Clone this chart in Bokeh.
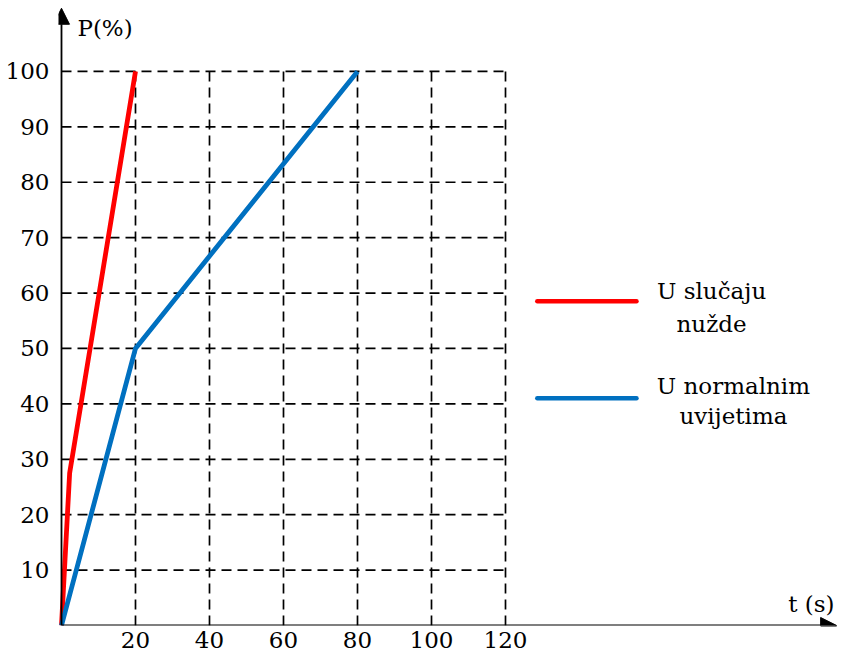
from bokeh.plotting import figure
from bokeh.models import Range1d, FixedTicker, Arrow, NormalHead
from bokeh.core.properties import value
from bokeh.embed import file_html
from bokeh.resources import INLINE

# ---- data ----
t_emergency = [0, 2.2, 20]
p_emergency = [0, 27.5, 100]
t_normal = [0, 20, 80]
p_normal = [0, 50, 100]
x_ticks = [20, 40, 60, 80, 100, 120]
y_ticks = [10, 20, 30, 40, 50, 60, 70, 80, 90, 100]
legend_emergency = ["U slučaju", "nužde"]
legend_normal = ["U normalnim", "uvijetima"]
x_title = "t (s)"
y_title = "P(%)"

FONT = "DejaVu Serif"
FS = "23px"
RED = "#FF0000"
BLUE = "#0070C0"
DY = 1.25  # text baseline correction (data units)

p = figure(width=838, height=653, output_backend="svg", toolbar_location=None,
           x_range=Range1d(-0.81, 210.0), y_range=Range1d(0, 112.8),
           min_border_left=58, min_border_right=0, min_border_top=0,
           min_border_bottom=28)
p.outline_line_color = None
p.grid.visible = False
p.background_fill_color = "white"
p.border_fill_color = "white"

for ax in (p.xaxis[0], p.yaxis[0]):
    ax.axis_line_color = None
    ax.major_tick_line_color = None
    ax.minor_tick_line_color = None
    ax.major_label_text_font = FONT
    ax.major_label_text_font_size = FS
    ax.major_label_text_color = "black"
p.xaxis[0].ticker = FixedTicker(ticks=x_ticks)
p.yaxis[0].ticker = FixedTicker(ticks=y_ticks)
p.xaxis[0].major_label_standoff = 0
p.yaxis[0].major_label_standoff = 3

# dashed grid bounded to data box
xmax = max(x_ticks)
ymax = max(y_ticks)
p.segment(x0=x_ticks, y0=[0] * len(x_ticks), x1=x_ticks, y1=[ymax] * len(x_ticks),
          line_color="black", line_width=1.7, line_dash="10 6")
p.segment(x0=[0] * len(y_ticks), y0=y_ticks, x1=[xmax] * len(y_ticks), y1=y_ticks,
          line_color="black", line_width=1.7, line_dash="10 6")

# series
p.line(t_emergency, p_emergency, line_color=RED, line_width=4.8, line_join="round")
p.line(t_normal, p_normal, line_color=BLUE, line_width=4.8, line_join="round")

# axes with arrows
p.add_layout(Arrow(end=NormalHead(size=16, fill_color="black", line_color="black"),
                   x_start=0, y_start=0, x_end=209.5, y_end=0,
                   line_color="black", line_width=1.8))
p.add_layout(Arrow(end=NormalHead(size=16, fill_color="black", line_color="black"),
                   x_start=0, y_start=0, x_end=0, y_end=111.4,
                   line_color="black", line_width=1.8))

# axis titles
p.text(x=[4.3], y=[106.5 + DY], text=[y_title], text_font=value(FONT), text_font_size=FS,
       text_align="left", text_baseline="alphabetic", text_color="black")
p.text(x=[208.9], y=[2.7 + DY], text=[x_title], text_font=value(FONT), text_font_size=FS,
       text_align="right", text_baseline="alphabetic", text_color="black")

# custom legend
p.line([128.6, 155.4], [58.5, 58.5], line_color=RED, line_width=4.5, line_cap="round")
p.line([128.6, 155.4], [41.0, 41.0], line_color=BLUE, line_width=4.5, line_cap="round")
p.text(x=[175.7, 175.7], y=[59.2 + DY, 53.2 + DY], text=legend_emergency, text_font=value(FONT),
       text_font_size=FS, text_align="center", text_baseline="alphabetic", text_color="black")
p.text(x=[181.6, 181.6], y=[41.9 + DY, 36.5 + DY], text=legend_normal, text_font=value(FONT),
       text_font_size=FS, text_align="center", text_baseline="alphabetic", text_color="black")

open("out.html", "w").write(file_html(p, INLINE))
